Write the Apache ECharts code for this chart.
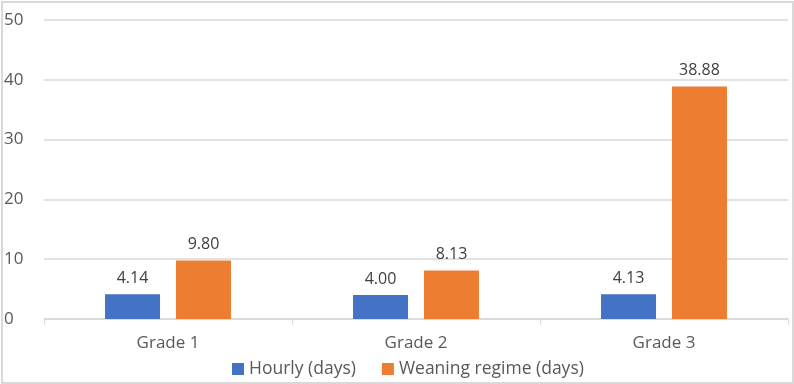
<!DOCTYPE html>
<html>
<head>
<meta charset="utf-8">
<script src="https://cdn.jsdelivr.net/npm/echarts@6/dist/echarts.min.js"></script>
<style>
  html, body { margin: 0; padding: 0; background: #fff; }
  #frame { position: absolute; left: 1px; top: 1px; width: 789px; height: 379px; border: 2px solid #d9d9d9; box-sizing: content-box; }
  #chart { width: 794px; height: 384px; position: absolute; left: 0; top: 0; }
</style>
</head>
<body>
<div id="frame"></div>
<div id="chart"></div>
<script>
const categories = ['Grade 1', 'Grade 2', 'Grade 3'];
const hourly = [4.14, 4.00, 4.13];
const weaning = [9.80, 8.13, 38.88];
const seriesNames = ['Hourly (days)', 'Weaning regime (days)'];

const font = '"Open Sans", "Liberation Sans", sans-serif';
const chart = echarts.init(document.getElementById('chart'));

const label = {
  show: true,
  position: 'top',
  distance: 8,
  color: '#404040',
  fontSize: 16,
  fontFamily: font,
  formatter: p => p.value.toFixed(2),
};

chart.setOption({
  animation: false,
  textStyle: { fontFamily: font },
  grid: { left: 44, right: 6, top: 20, bottom: 65, containLabel: false },
  legend: {
    bottom: 1,
    left: 227,
    itemWidth: 12,
    itemHeight: 12,
    itemGap: 26,
    icon: 'rect',
    textStyle: { color: '#595959', fontSize: 17.5, fontFamily: font },
    data: seriesNames,
  },
  xAxis: {
    type: 'category',
    data: categories,
    axisLine: { lineStyle: { color: '#d9d9d9', width: 1.5 } },
    axisTick: { show: true, length: 6, lineStyle: { color: '#d9d9d9' } },
    axisLabel: { color: '#595959', fontSize: 17, margin: 16, fontFamily: font },
  },
  yAxis: {
    type: 'value',
    min: 0,
    max: 50,
    interval: 10,
    axisLine: { show: false },
    axisTick: { show: false },
    splitLine: { lineStyle: { color: '#d9d9d9', width: 1.5 } },
    axisLabel: { color: '#595959', fontSize: 17, margin: 40, align: 'left', fontFamily: font },
  },
  series: [
    {
      name: seriesNames[0],
      type: 'bar',
      data: hourly,
      barWidth: 55,
      barGap: '29%',
      itemStyle: { color: '#4472c4' },
      label: label,
    },
    {
      name: seriesNames[1],
      type: 'bar',
      data: weaning,
      barWidth: 55,
      itemStyle: { color: '#ed7d31' },
      label: label,
    },
  ],
});
</script>
</body>
</html>
